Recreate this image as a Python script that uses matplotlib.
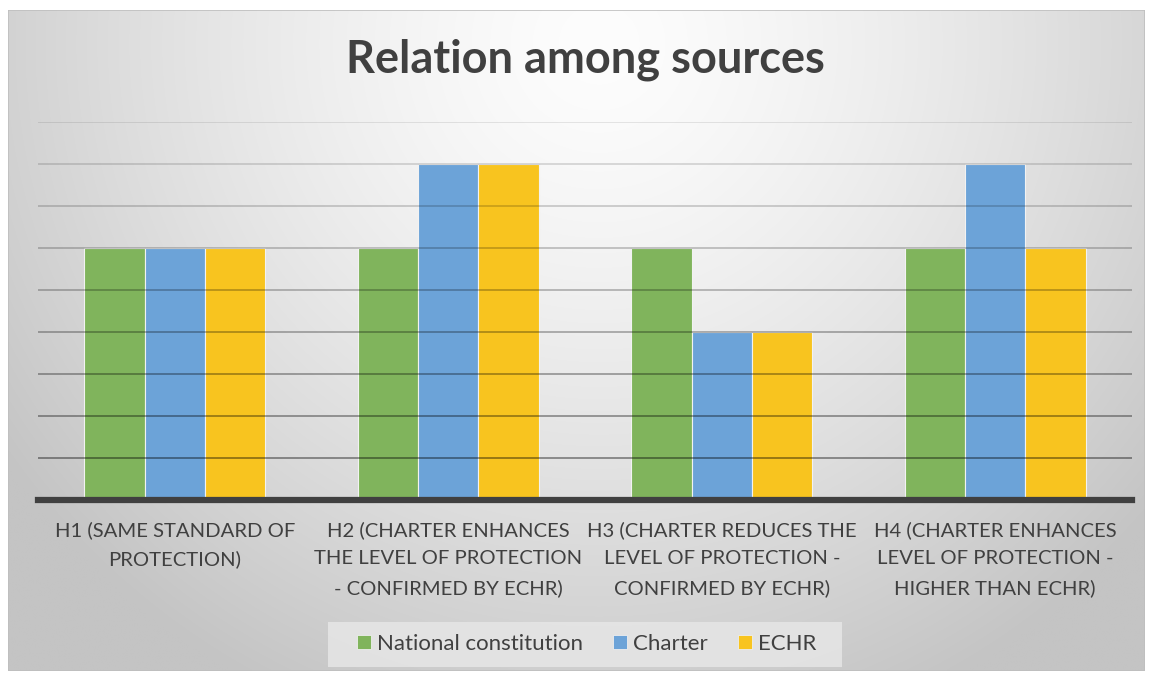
import numpy as np
import matplotlib
matplotlib.use("Agg")
import matplotlib.pyplot as plt
from matplotlib.patches import Patch, Rectangle

categories = [
    "H1 (SAME STANDARD OF\nPROTECTION)",
    "H2 (CHARTER ENHANCES\nTHE LEVEL OF PROTECTION\n- CONFIRMED BY ECHR)",
    "H3 (CHARTER REDUCES THE\nLEVEL OF PROTECTION -\nCONFIRMED BY ECHR)",
    "H4 (CHARTER ENHANCES\nLEVEL OF PROTECTION -\nHIGHER THAN ECHR)",
]
series_names = ["National constitution", "Charter", "ECHR"]
national = [6, 6, 6, 6]
charter = [6, 8, 4, 8]
echr = [6, 8, 4, 6]
title = "Relation among sources"

colors = ["#80b45c", "#6ca3d8", "#f8c41f"]
text_col = "#404040"
FONT = ["Lato", "DejaVu Sans"]
plt.rcParams['font.family'] = FONT

W, H = 1153, 676
fig = plt.figure(figsize=(W / 100, H / 100), dpi=100)
fig.patch.set_facecolor("white")

# gradient panel background
px0, px1, py0, py1 = 8, 1145, 10, 671
bg = fig.add_axes([px0 / W, 1 - py1 / H, (px1 - px0) / W, (py1 - py0) / H])
bg.set_axis_off()
nx, ny = 400, 240
xx, yy = np.meshgrid(np.linspace(0, 1, nx), np.linspace(0, 1, ny))
cx, cy = 0.52, 0.05
r = np.sqrt(((xx - cx) / 0.64) ** 2 + ((yy - cy) / 1.1) ** 2)
r = np.clip(r, 0, 1)
v = 253 - (253 - 196) * r ** 1.4
img = np.dstack([v, v, v]) / 255.0
bg.imshow(img, aspect="auto", extent=[0, 1, 1, 0], interpolation="bilinear")
bg.set_xlim(0, 1); bg.set_ylim(1, 0)
bg.add_patch(Rectangle((0, 0), 1, 1, transform=bg.transAxes, fill=False,
                       edgecolor="#bfbfbf", linewidth=1.2))

# legend box
lx0, lx1, ly0, ly1 = 328, 842, 622, 667
fig.patches.append(Rectangle((lx0 / W, 1 - ly1 / H), (lx1 - lx0) / W, (ly1 - ly0) / H,
                             transform=fig.transFigure, facecolor="#e6e6e6",
                             edgecolor="none", alpha=0.85, zorder=1))

# main axes
ax_l, ax_r = 38, 1132
ax_top, ax_bot = 122, 500
ax = fig.add_axes([ax_l / W, 1 - ax_bot / H, (ax_r - ax_l) / W, (ax_bot - ax_top) / H])
ax.patch.set_alpha(0)
ax.set_xlim(-0.5, 3.5)
ax.set_ylim(0, 9)

x = np.arange(len(categories))
bw = 0.22
for i, (vals, c) in enumerate(zip([national, charter, echr], colors)):
    ax.bar(x + (i - 1) * bw, vals, width=bw, color=c, edgecolor="#f2f2f2",
           linewidth=0.8, zorder=2)

# gridlines (drawn over bars, lighter toward top)
for k in range(1, 10):
    a = 0.42 - 0.32 * (k - 1) / 8
    ax.axhline(k, color="black", alpha=a, linewidth=1.3, zorder=3)
ax.axhline(0, color="#404040", linewidth=4.5, zorder=4, clip_on=False)

for s in ax.spines.values():
    s.set_visible(False)
ax.set_yticks([])
ax.set_xticks(x)
ax.set_xticklabels(categories, fontsize=14.6, color=text_col, linespacing=1.8)
ax.tick_params(axis="x", length=0, pad=15)

fig.text(585 / W, 1 - 60 / H, title, ha="center", va="center", fontsize=32.5,
         fontweight="bold", color=text_col)

handles = [Patch(facecolor=c, edgecolor="#eeeeee", linewidth=0.6) for c in colors]
leg = fig.legend(handles, series_names, loc="center", bbox_to_anchor=(587 / W, 1 - 644 / H),
                 ncol=3, frameon=False, fontsize=16, handlelength=0.6, handleheight=0.6,
                 handletextpad=0.3, columnspacing=1.35, borderpad=0.6)
for t in leg.get_texts():
    t.set_color(text_col)

fig.savefig("out.png", dpi=100)
